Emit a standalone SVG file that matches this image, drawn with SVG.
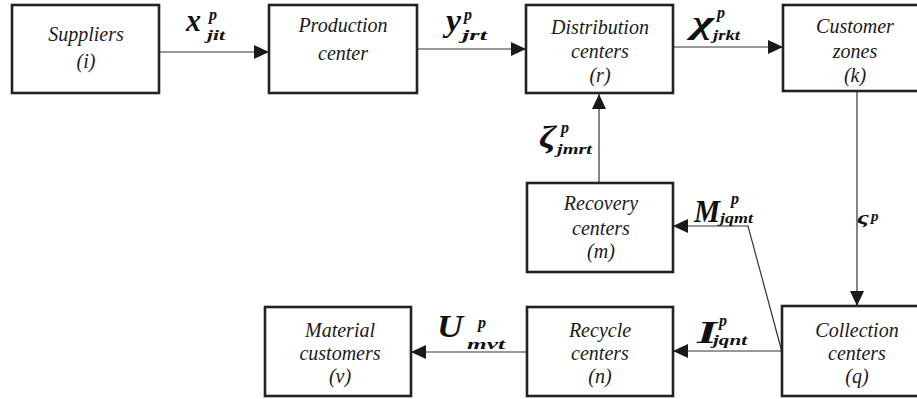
<svg xmlns="http://www.w3.org/2000/svg" width="917" height="399" viewBox="0 0 917 399">
<style>
.box{fill:#fff;stroke:#222;stroke-width:2.6}
.t{font-family:'Liberation Serif','Times New Roman','DejaVu Serif',serif;font-style:italic;font-size:20px;fill:#1a1a1a;text-anchor:middle}
.m{font-family:'Liberation Serif','Times New Roman','DejaVu Serif',serif;font-style:italic;font-weight:bold;fill:#111}
.big{font-size:32px}
.sup{font-size:16px}
.sub{font-size:15px}
.ln{fill:none;stroke:#333;stroke-width:1.2}
</style>
<defs>
<marker id="ah" viewBox="0 0 15 14" refX="15" refY="7" markerWidth="15" markerHeight="14" markerUnits="userSpaceOnUse" orient="auto">
<path d="M0,0 L15,7 L0,14 Z" fill="#1a1a1a"/>
</marker>
</defs>
<rect width="917" height="399" fill="#fff"/>
<g id="connectors">
<line class="ln" x1="159" y1="52" x2="269" y2="52" marker-end="url(#ah)"/>
<line class="ln" x1="417" y1="49" x2="526" y2="49" marker-end="url(#ah)"/>
<line class="ln" x1="673" y1="47" x2="783" y2="47" marker-end="url(#ah)"/>
<line class="ln" x1="857" y1="91" x2="857" y2="306" marker-end="url(#ah)"/>
<line class="ln" x1="599" y1="183" x2="599" y2="94" marker-end="url(#ah)"/>
<polyline class="ln" points="782,352 748,226 673,226" marker-end="url(#ah)"/>
<line class="ln" x1="782" y1="351" x2="673" y2="351" marker-end="url(#ah)"/>
<line class="ln" x1="527" y1="352" x2="411" y2="352" marker-end="url(#ah)"/>
</g>
<g id="labels">
<text class="m big" x="186" y="31" textLength="15" lengthAdjust="spacingAndGlyphs">x</text>
<text class="m sup" x="209" y="20">p</text>
<text class="m sub" x="207" y="40" textLength="18" lengthAdjust="spacingAndGlyphs">jit</text>

<text class="m big" x="446" y="31" textLength="15" lengthAdjust="spacingAndGlyphs">y</text>
<text class="m sup" x="464" y="20">p</text>
<text class="m sub" x="462" y="40" textLength="25" lengthAdjust="spacingAndGlyphs">jrt</text>

<text class="m big" x="692" y="33" textLength="22" lengthAdjust="spacingAndGlyphs">χ</text>
<text class="m sup" x="717" y="18">p</text>
<text class="m sub" x="713" y="40" textLength="27" lengthAdjust="spacingAndGlyphs">jrkt</text>

<text class="m big" x="539" y="148" textLength="17" lengthAdjust="spacingAndGlyphs">ζ</text>
<text class="m sup" x="561" y="133">p</text>
<text class="m sub" x="557" y="154" textLength="35" lengthAdjust="spacingAndGlyphs">jmrt</text>

<text class="m big" x="694" y="222" textLength="26" lengthAdjust="spacingAndGlyphs">M</text>
<text class="m sup" x="731" y="204">p</text>
<text class="m sub" x="720" y="223" textLength="33" lengthAdjust="spacingAndGlyphs">jqmt</text>

<text class="m big" x="697" y="343" textLength="20" lengthAdjust="spacingAndGlyphs">I</text>
<text class="m sup" x="719" y="326">p</text>
<text class="m sub" x="713" y="345" textLength="34" lengthAdjust="spacingAndGlyphs">jqnt</text>

<text class="m big" x="437" y="337" textLength="26" lengthAdjust="spacingAndGlyphs">U</text>
<text class="m sup" x="478" y="328">p</text>
<text class="m sub" x="467" y="349" textLength="38" lengthAdjust="spacingAndGlyphs">mvt</text>

<text class="m" style="font-size:19px" x="857" y="224" textLength="12" lengthAdjust="spacingAndGlyphs">ς</text>
<text class="m" style="font-size:15px" x="871" y="221">p</text>
</g>
<g id="suppliers">
<rect class="box" x="12" y="5" width="147" height="88"/>
<text class="t" x="86" y="41">Suppliers</text>
<text class="t" x="86" y="68">(i)</text>
</g>
<g id="production">
<rect class="box" x="269" y="5" width="148" height="88"/>
<text class="t" x="343" y="32">Production</text>
<text class="t" x="343" y="60">center</text>
</g>
<g id="distribution">
<rect class="box" x="526" y="5" width="147" height="88"/>
<text class="t" x="600" y="34">Distribution</text>
<text class="t" x="600" y="58">centers</text>
<text class="t" x="600" y="82">(r)</text>
</g>
<g id="customer">
<rect class="box" x="783" y="5" width="150" height="86"/>
<text class="t" x="855" y="33">Customer</text>
<text class="t" x="855" y="58">zones</text>
<text class="t" x="855" y="82">(k)</text>
</g>
<g id="recovery">
<rect class="box" x="527" y="183" width="146" height="89"/>
<text class="t" x="601" y="210">Recovery</text>
<text class="t" x="601" y="235">centers</text>
<text class="t" x="601" y="258">(m)</text>
</g>
<g id="material">
<rect class="box" x="265" y="307" width="146" height="89"/>
<text class="t" x="340" y="337">Material</text>
<text class="t" x="340" y="360">customers</text>
<text class="t" x="340" y="383">(v)</text>
</g>
<g id="recycle">
<rect class="box" x="527" y="307" width="146" height="89"/>
<text class="t" x="600" y="337">Recycle</text>
<text class="t" x="600" y="360">centers</text>
<text class="t" x="600" y="383">(n)</text>
</g>
<g id="collection">
<rect class="box" x="782" y="306" width="150" height="90"/>
<text class="t" x="857" y="337">Collection</text>
<text class="t" x="857" y="360">centers</text>
<text class="t" x="857" y="383">(q)</text>
</g>
</svg>
